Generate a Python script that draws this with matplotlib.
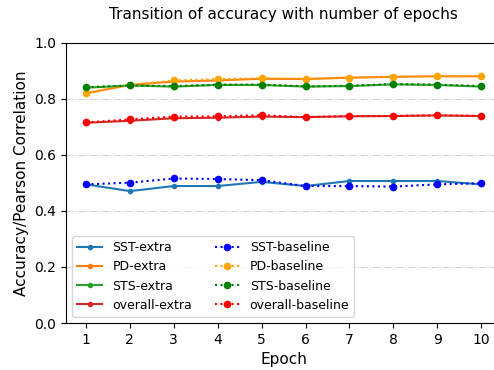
import matplotlib
matplotlib.use("Agg")
import matplotlib.pyplot as plt

epochs = [1, 2, 3, 4, 5, 6, 7, 8, 9, 10]

sst_extra = [0.495, 0.471, 0.489, 0.489, 0.504, 0.489, 0.507, 0.507, 0.507, 0.495]
pd_extra = [0.820, 0.850, 0.862, 0.866, 0.872, 0.871, 0.876, 0.879, 0.881, 0.881]
sts_extra = [0.840, 0.848, 0.844, 0.850, 0.850, 0.844, 0.846, 0.852, 0.850, 0.844]
overall_extra = [0.715, 0.722, 0.731, 0.733, 0.737, 0.735, 0.738, 0.739, 0.741, 0.739]

sst_base = [0.495, 0.501, 0.516, 0.514, 0.510, 0.489, 0.489, 0.487, 0.495, 0.499]
pd_base = [0.822, 0.850, 0.866, 0.871, 0.874, 0.872, 0.876, 0.879, 0.881, 0.881]
sts_base = [0.842, 0.848, 0.846, 0.851, 0.851, 0.845, 0.847, 0.853, 0.851, 0.846]
overall_base = [0.716, 0.727, 0.737, 0.738, 0.742, 0.735, 0.739, 0.739, 0.742, 0.739]

fig = plt.figure(figsize=(4.94, 3.7), dpi=100)
# axes run slightly past the right edge (cropped like the original)
ax = fig.add_axes([0.134, 0.127, 0.880, 0.757])

ax.plot(epochs, sst_extra, marker=".", color="tab:blue", label="SST-extra")
ax.plot(epochs, pd_extra, marker=".", color="tab:orange", label="PD-extra")
ax.plot(epochs, sts_extra, marker=".", color="tab:green", label="STS-extra")
ax.plot(epochs, overall_extra, marker=".", color="tab:red", label="overall-extra")

ax.plot(epochs, sst_base, ":", marker="o", ms=4.5, color="blue", label="SST-baseline")
ax.plot(epochs, pd_base, ":", marker="o", ms=4.5, color="orange", label="PD-baseline")
ax.plot(epochs, sts_base, ":", marker="o", ms=4.5, color="green", label="STS-baseline")
ax.plot(epochs, overall_base, ":", marker="o", ms=4.5, color="red", label="overall-baseline")

ax.set_ylim(0, 1.0)
ax.set_xlim(0.55, 10.45)
ax.set_xticks(epochs)
ax.yaxis.grid(True, linestyle="-.", color="lightgray")
ax.set_xlabel("Epoch", fontsize=11)
ax.set_ylabel("Accuracy/Pearson Correlation", fontsize=11)
ax.set_title("Transition of accuracy with number of epochs", fontsize=11, pad=17)
ax.legend(ncol=2, loc="lower left", fontsize=9, columnspacing=1.8)

fig.savefig("out.png", dpi=100)
